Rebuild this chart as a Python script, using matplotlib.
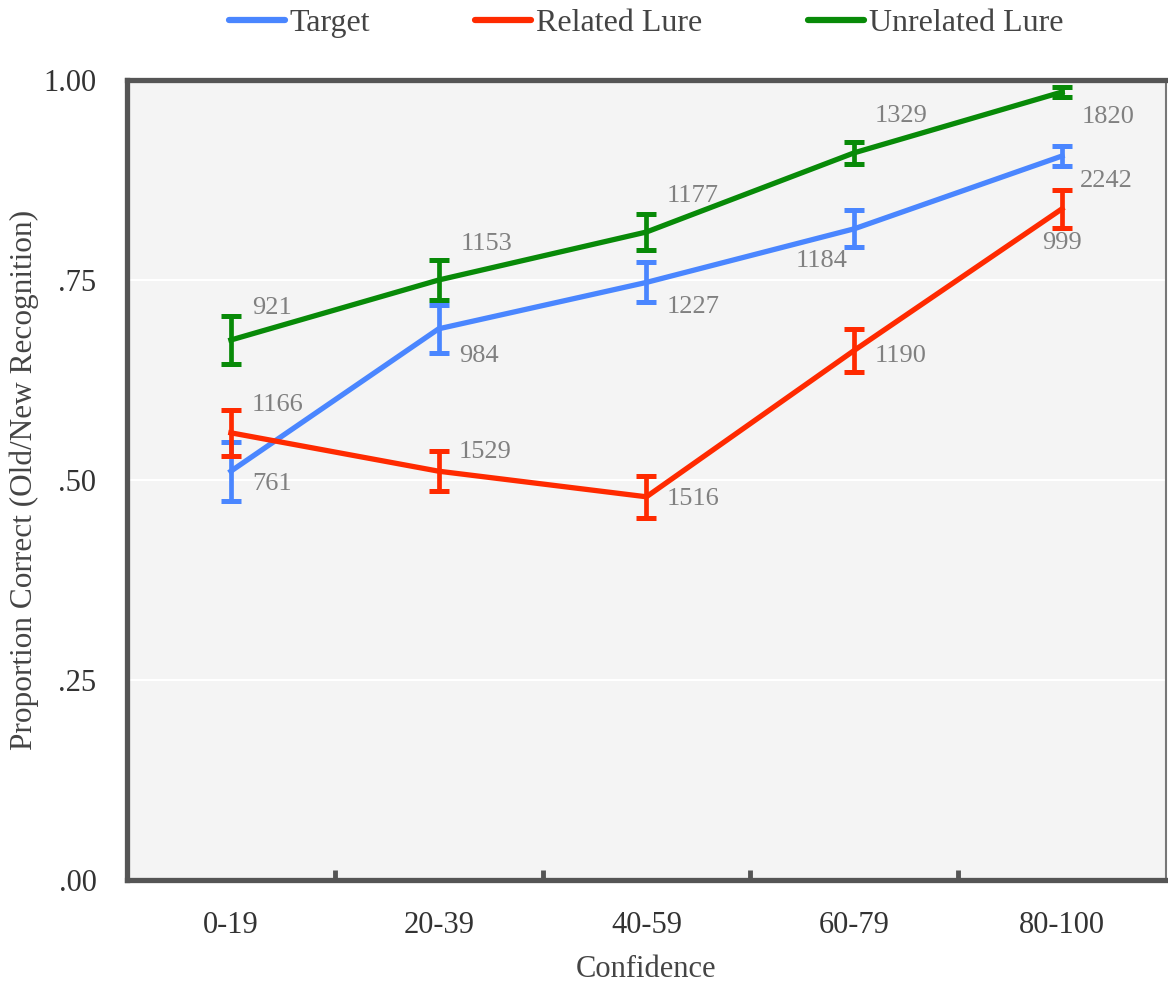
import matplotlib
matplotlib.use("Agg")
import matplotlib.pyplot as plt
from matplotlib.lines import Line2D
import numpy as np

categories = ["0-19", "20-39", "40-59", "60-79", "80-100"]
series_names = ["Target", "Related Lure", "Unrelated Lure"]
target_mean = [0.511, 0.689, 0.747, 0.814, 0.905]
target_err = [0.037, 0.030, 0.025, 0.023, 0.013]
target_n = [761, 984, 1227, 1184, 2242]
related_mean = [0.559, 0.511, 0.479, 0.662, 0.839]
related_err = [0.029, 0.025, 0.026, 0.027, 0.024]
related_n = [1166, 1529, 1516, 1190, 999]
unrelated_mean = [0.675, 0.750, 0.810, 0.909, 0.985]
unrelated_err = [0.030, 0.025, 0.022, 0.014, 0.006]
unrelated_n = [921, 1153, 1177, 1329, 1820]
yticks = [0.0, 0.25, 0.5, 0.75, 1.0]
ytick_labels = [".00", ".25", ".50", ".75", "1.00"]

colors = ["#4a86ff", "#ff2a00", "#088a08"]
# label placement in pixels: (dx right, dy down, ha)
label_pos = [
    [(21, 13, "left"), (20, 27, "left"), (20, 25, "left"), (-7, 32, "right"), (18, 25, "left")],
    [(21, -28, "left"), (20, -19, "left"), (20, 2, "left"), (20, 6, "left"), (0, 34, "center")],
    [(21, -32, "left"), (22, -36, "left"), (20, -36, "left"), (20, -37, "left"), (20, 25, "left")],
]

plt.rcParams["font.family"] = ["Liberation Serif", "DejaVu Serif"]
fig = plt.figure(figsize=(11.68, 9.83), dpi=100)
ax = fig.add_axes([0.1087, 0.1048, 0.8895, 0.8138])
ax.set_facecolor("#f4f4f4")

x = np.arange(len(categories))
means = [target_mean, related_mean, unrelated_mean]
errs = [target_err, related_err, unrelated_err]
ns = [target_n, related_n, unrelated_n]

for yv in [0.25, 0.5, 0.75]:
    ax.axhline(yv, color="white", lw=1.5, zorder=1)

for i in range(3):
    ax.errorbar(x, means[i], yerr=errs[i], color=colors[i], lw=3.8,
                elinewidth=3.4, capsize=7, capthick=3.6, zorder=3,
                label=series_names[i])
    for j in range(len(categories)):
        dx, dy, ha = label_pos[i][j]
        ax.annotate(str(ns[i][j]), (x[j], means[i][j]), xytext=(dx * 0.72, -dy * 0.72),
                    textcoords="offset points", ha=ha, va="center",
                    fontsize=19, color="#808080", zorder=4)

ax.set_xlim(-0.5, 4.5)
ax.set_ylim(0, 1.0)
ax.set_yticks(yticks)
ax.set_yticklabels(ytick_labels)
ax.set_xticks(x)
ax.set_xticklabels(categories)
ax.set_xticks([0.5, 1.5, 2.5, 3.5], minor=True)
ax.tick_params(axis="x", which="major", length=0, labelsize=22, pad=22, colors="#333333")
ax.tick_params(axis="x", which="minor", direction="in", length=7, width=3.5, color="#555555")
ax.tick_params(axis="y", length=0, labelsize=22, pad=22, colors="#333333")
for s in ["top", "left", "bottom"]:
    ax.spines[s].set_color("#555555")
    ax.spines[s].set_linewidth(3.8)
ax.spines["right"].set_color("#777777")
ax.spines["right"].set_linewidth(1.5)

ax.set_xlabel("Confidence", fontsize=22, color="#444444", labelpad=11)
ax.set_ylabel("Proportion Correct (Old/New Recognition)", fontsize=22.5, color="#444444",
              va="center")
ax.yaxis.set_label_coords(-0.0985, 0.5)

leg_handles = [Line2D([0], [0], color=c, lw=4.5, solid_capstyle="round") for c in colors]
fig.legend(leg_handles, series_names, loc="upper center", bbox_to_anchor=(0.553, 1.02),
           ncol=3, frameon=False, fontsize=23, handlelength=1.75, handletextpad=0.15,
           columnspacing=3.3, labelcolor="#444444")

fig.savefig("out.png", dpi=100)
